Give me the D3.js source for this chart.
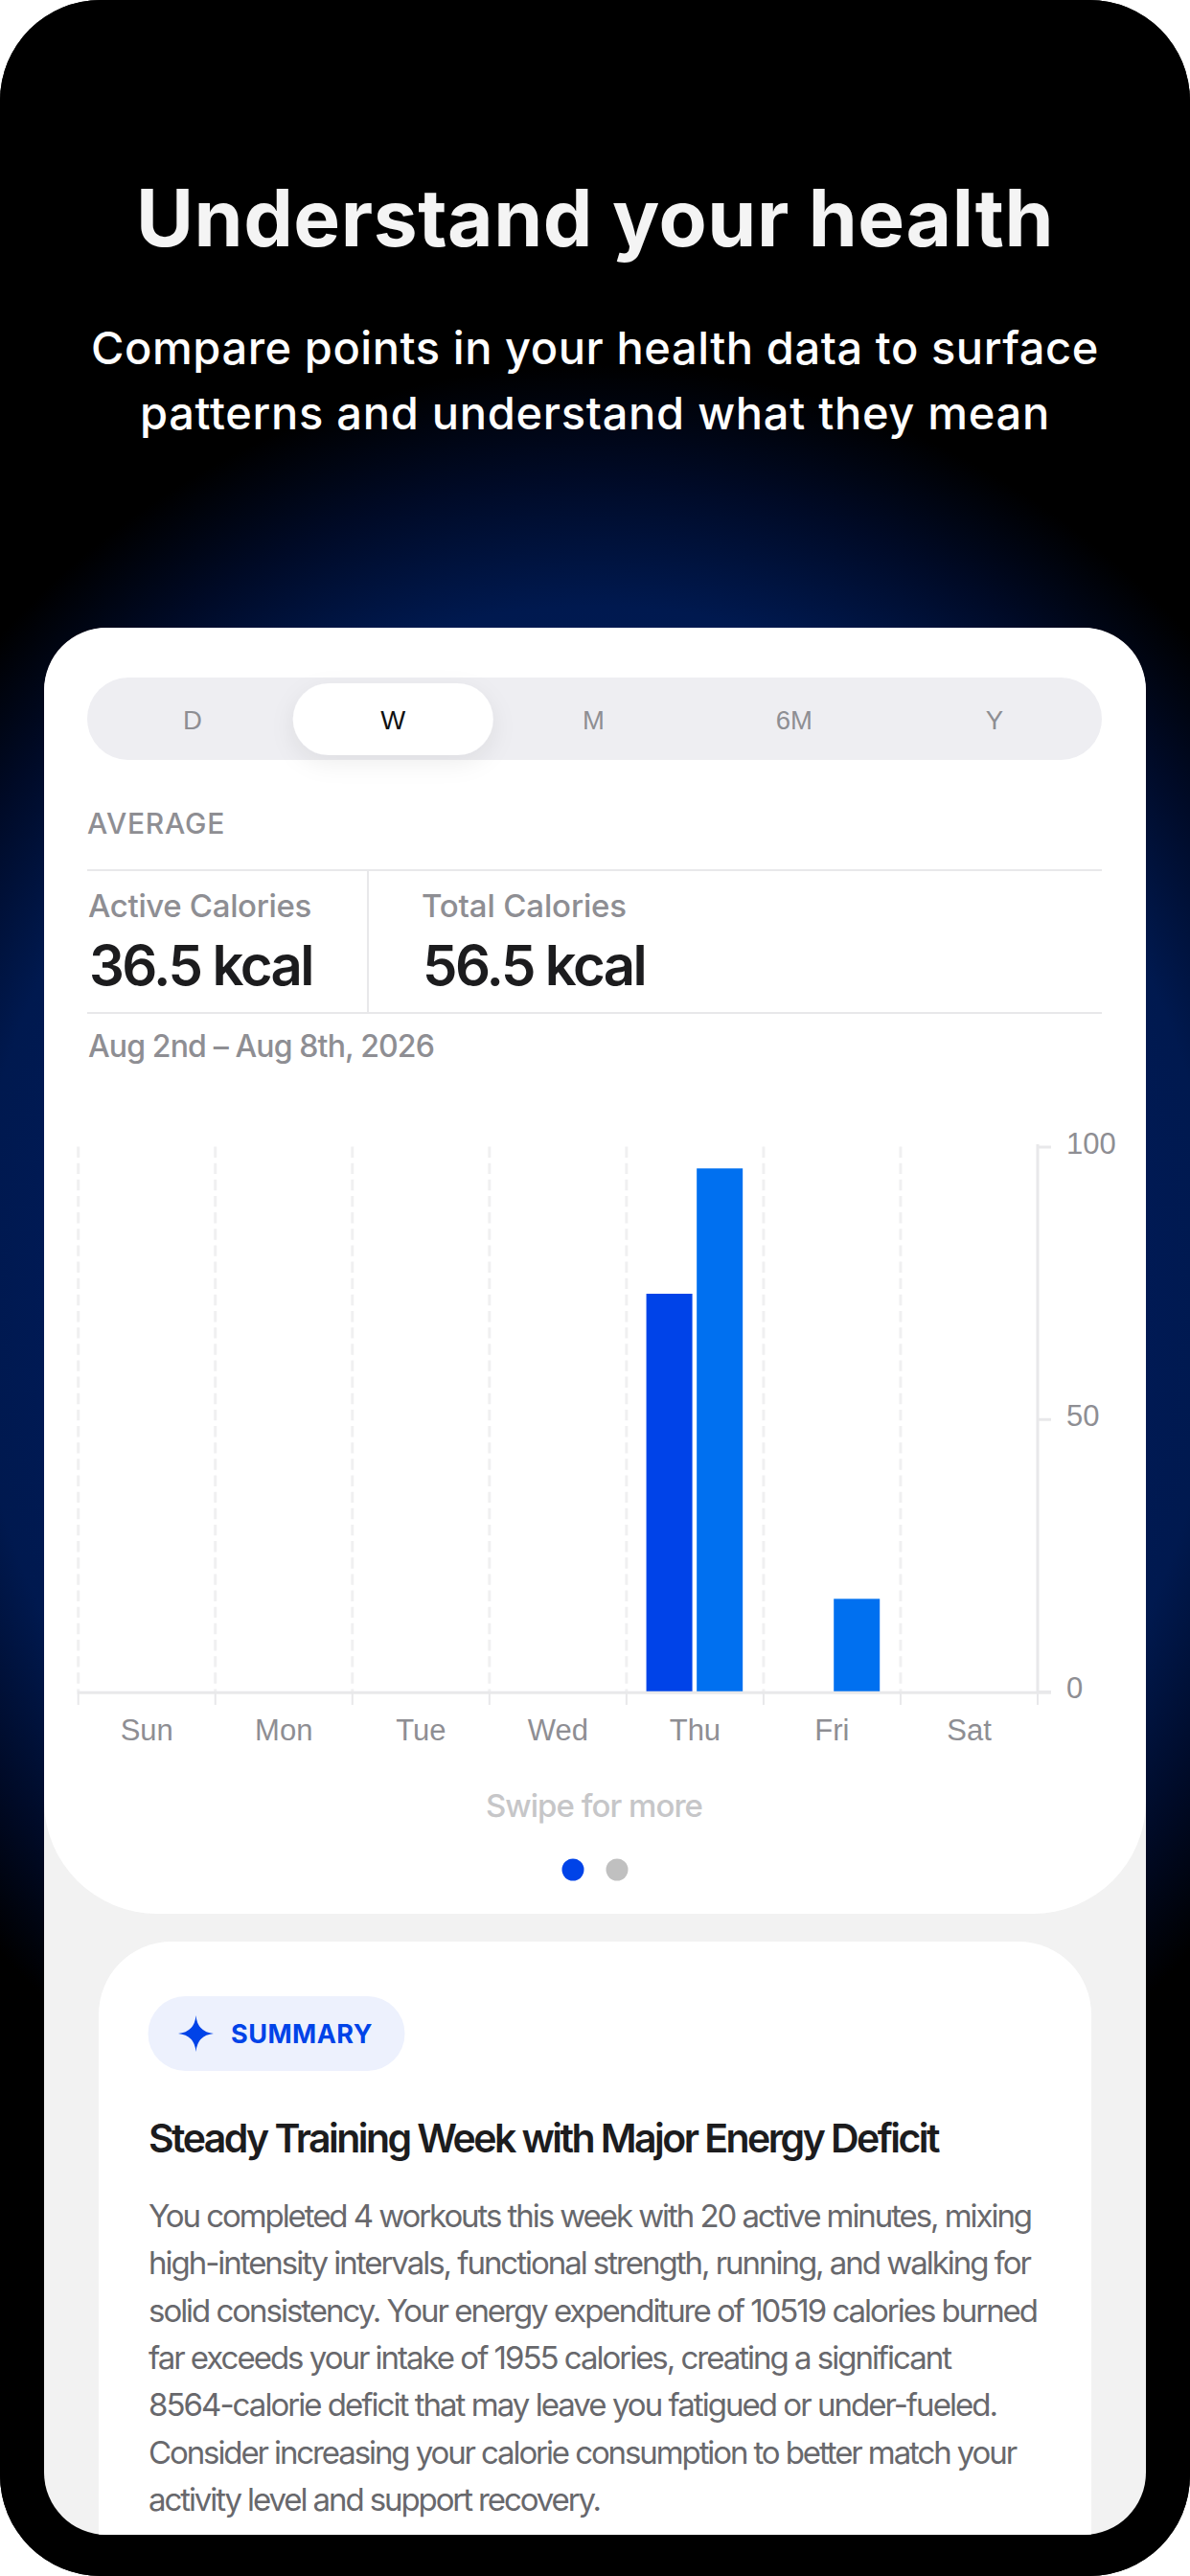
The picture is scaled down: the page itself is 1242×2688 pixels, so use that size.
<!DOCTYPE html>
<html><head><meta charset="utf-8">
<script src="https://cdn.jsdelivr.net/npm/d3@7"></script>
<style>
html,body{margin:0;padding:0;background:#fff;}
svg{display:block;}
.ui{font-family:Inter,"Liberation Sans",sans-serif;}
.hv{font-family:"Liberation Sans",Arial,sans-serif;}
.head{font-family:Inter,sans-serif;}
</style></head><body>
<svg id="c" width="1242" height="2688"></svg>
<script>
// ---- data ----
const days = ["Sun","Mon","Tue","Wed","Thu","Fri","Sat"];
const seriesNames = ["Active Calories","Total Calories"];
const activeValues = [0,0,0,0,73,0,0];
const totalValues = [0,0,0,0,96,17,0];
const yTicks = [0,50,100];
const ranges = ["D","W","M","6M","Y"];
const titleText = "Understand your health";
const subtitleLines = ["Compare points in your health data to surface","patterns and understand what they mean"];
const bodyLines = [
 "You completed 4 workouts this week with 20 active minutes, mixing",
 "high-intensity intervals, functional strength, running, and walking for",
 "solid consistency. Your energy expenditure of 10519 calories burned",
 "far exceeds your intake of 1955 calories, creating a significant",
 "8564-calorie deficit that may leave you fatigued or under-fueled.",
 "Consider increasing your calorie consumption to better match your",
 "activity level and support recovery."];
const bodyWidths = [921,920,927,837,885,905,471];

const svg = d3.select("#c");
const defs = svg.append("defs");
const glow = defs.append("radialGradient").attr("id","glow").attr("gradientUnits","userSpaceOnUse")
  .attr("cx",0).attr("cy",0).attr("r",1)
  .attr("gradientTransform","translate(621,1350) scale(880,970)");
[[0,"#001c5c"],[.62,"#001a56"],[.74,"#00194f"],[.88,"#000a26"],[1,"#000000"]]
  .forEach(s=>glow.append("stop").attr("offset",s[0]).attr("stop-color",s[1]));
defs.append("clipPath").attr("id","panelClip").append("rect")
  .attr("x",46).attr("y",655).attr("width",1150).attr("height",1990).attr("rx",65);
const sh = defs.append("filter").attr("id","pillShadow").attr("x","-30%").attr("y","-40%").attr("width","160%").attr("height","200%");
sh.append("feDropShadow").attr("dx",0).attr("dy",8).attr("stdDeviation",12).attr("flood-color","#000").attr("flood-opacity",.07);

// fit helper: writes text then tracks it to the width measured in the reference
function txt(g,s,x,y,size,weight,fill,cls,width,anchor){
  const t = g.append("text").attr("class",cls).attr("x",x).attr("y",y)
    .attr("font-size",size).attr("font-weight",weight).attr("fill",fill)
    .attr("text-anchor",anchor||"start").text(s);
  if(width){
    const w = t.node().getComputedTextLength();
    t.attr("letter-spacing",((width-w)/s.length).toFixed(3));
  }
  return t;
}

// device background
svg.append("rect").attr("width",1242).attr("height",2688).attr("rx",105).attr("fill","#000");
svg.append("rect").attr("width",1242).attr("height",2688).attr("rx",105).attr("fill","url(#glow)");

// heading
const hd = svg.append("g");
txt(hd,titleText,621,257,82,650,"#f4f4f4","head",958,"middle");
txt(hd,subtitleLines[0],621,380,47,500,"#ffffff","head",1052,"middle");
txt(hd,subtitleLines[1],621,448,47,500,"#ffffff","head",950,"middle");

// phone panel
const panel = svg.append("g").attr("clip-path","url(#panelClip)");
panel.append("rect").attr("x",46).attr("y",655).attr("width",1150).attr("height",1990).attr("fill","#f2f2f2");
panel.append("rect").attr("x",103).attr("y",2026).attr("width",1036).attr("height",800).attr("rx",76).attr("fill","#fff");
panel.append("path").attr("fill","#fff").attr("d",(()=>{
  const p=d3.path(),l=46,r=1196,t=655,b=1997,rt=66,rb=118;
  p.moveTo(l+rt,t);p.lineTo(r-rt,t);p.arcTo(r,t,r,t+rt,rt);p.lineTo(r,b-rb);p.arcTo(r,b,r-rb,b,rb);
  p.lineTo(l+rb,b);p.arcTo(l,b,l,b-rb,rb);p.lineTo(l,t+rt);p.arcTo(l,t,l+rt,t,rt);p.closePath();return p;})());

// segmented control
const seg = svg.append("g");
seg.append("rect").attr("x",91).attr("y",707).attr("width",1059).attr("height",86).attr("rx",43).attr("fill","#eeeef2");
const segX = d3.scalePoint().domain(ranges).range([201,1038]);
seg.append("rect").attr("x",segX("W")-104.5).attr("y",713).attr("width",209).attr("height",75).attr("rx",37.5)
  .attr("fill","#fff").attr("filter","url(#pillShadow)");
ranges.forEach(r=>txt(seg,r,segX(r),761,27.5,400,r==="W"?"#111":"#8e8e93","hv",null,"middle"));

// stats
const st = svg.append("g");
txt(st,"AVERAGE",91,870,30,500,"#8e8e93","ui",144);
[[908],[1057]].forEach(d=>st.append("line").attr("x1",91).attr("x2",1150).attr("y1",d[0]).attr("y2",d[0]).attr("stroke","#e8e8ea").attr("stroke-width",2));
st.append("line").attr("x1",384).attr("x2",384).attr("y1",908).attr("y2",1057).attr("stroke","#e8e8ea").attr("stroke-width",2);
txt(st,"Active Calories",92,957,33,500,"#8e8e93","ui",233);
txt(st,"Total Calories",440,957,33,500,"#8e8e93","ui",214);
txt(st,"36.5 kcal",93,1028,58,600,"#1c1c1e","ui",233);
txt(st,"56.5 kcal",441,1028,58,600,"#1c1c1e","ui",232);
txt(st,"Aug 2nd \u2013 Aug 8th, 2026",92,1103,32,500,"#8e8e93","ui",361);

// chart
const x = d3.scaleBand().domain(days).range([81.7,1083]);
const xInner = d3.scaleBand().domain(seriesNames).range([20.7,121.3]).paddingInner(.0875);
const y = d3.scaleLinear().domain([0,100]).range([1765,1196.5]);
const seriesColor = d3.scaleOrdinal().domain(seriesNames).range(["#0043e8","#0070f0"]);
const edges = days.map(d=>x(d)).concat([x.range()[1]]);
const chart = svg.append("g");
const axisColor = "#e8e8ea";

chart.append("g").selectAll("line").data(edges.slice(0,-1)).join("line")
  .attr("x1",d=>d).attr("x2",d=>d).attr("y1",y(100)).attr("y2",y(0))
  .attr("stroke","#f0f0f1").attr("stroke-width",3).attr("stroke-dasharray","11.4 5.75");

const rows = days.map((d,i)=>[{day:d,s:seriesNames[0],v:activeValues[i]},{day:d,s:seriesNames[1],v:totalValues[i]}]).flat().filter(r=>r.v>0);
chart.append("g").selectAll("rect").data(rows).join("rect")
  .attr("x",d=>x(d.day)+xInner(d.s)).attr("width",xInner.bandwidth())
  .attr("y",d=>y(d.v)).attr("height",d=>y(0)-y(d.v)).attr("fill",d=>seriesColor(d.s));

// axes
const xAxis = chart.append("g").attr("transform",`translate(0,${y(0)+1.3})`)
  .call(d3.axisBottom(x).tickSize(0).tickPadding(32));
xAxis.select(".domain").remove();
xAxis.selectAll("text").attr("class","hv").attr("font-size",31).attr("fill","#8e8e93").attr("font-family","Liberation Sans").attr("dy",0)
  .attr("y",1816-(y(0)+1.3));
chart.append("line").attr("x1",x.range()[0]-1).attr("x2",1097).attr("y1",y(0)+1.3).attr("y2",y(0)+1.3).attr("stroke",axisColor).attr("stroke-width",3);
chart.append("g").selectAll("line").data(edges).join("line")
  .attr("x1",d=>d).attr("x2",d=>d).attr("y1",y(0)).attr("y2",1779).attr("stroke",axisColor).attr("stroke-width",2);

const yAxis = chart.append("g").attr("transform",`translate(${x.range()[1]},0)`)
  .call(d3.axisRight(y).tickValues(yTicks).tickSize(14).tickPadding(16));
yAxis.select(".domain").remove();
yAxis.selectAll(".tick line").attr("stroke",axisColor).attr("stroke-width",3);
yAxis.selectAll(".tick text").attr("font-family","Liberation Sans").attr("font-size",31).attr("fill","#8e8e93")
  .attr("dy",0).attr("y",6.5);
chart.append("line").attr("x1",x.range()[1]).attr("x2",x.range()[1]).attr("y1",1194).attr("y2",y(0)+1.3).attr("stroke",axisColor).attr("stroke-width",3);

// pager
const pg = svg.append("g");
txt(pg,"Swipe for more",620,1896,33,500,"#c6c6c8","ui",226,"middle");
pg.append("circle").attr("cx",598).attr("cy",1951).attr("r",11.5).attr("fill","#0043e8");
pg.append("circle").attr("cx",644).attr("cy",1951).attr("r",11.5).attr("fill","#c0c0c0");

// summary
const sm = svg.append("g").attr("clip-path","url(#panelClip)");
sm.append("rect").attr("x",154.5).attr("y",2083).attr("width",268).attr("height",78).attr("rx",39).attr("fill","#edf1fd");
sm.append("path").attr("transform","translate(204.5,2122)").attr("fill","#0043e8")
  .attr("d","M0,-19Q1.4,-1.8 18.5,0Q1.4,1.8 0,19Q-1.4,1.8 -18.5,0Q-1.4,-1.8 0,-19Z");
txt(sm,"SUMMARY",241,2132,27,700,"#0043e8","ui",148);
txt(sm,"Steady Training Week with Major Energy Deficit",155,2246,41,600,"#1c1c1e","ui",824);
const bodyY = d3.scaleLinear().domain([0,6]).range([2324,2620]);
bodyLines.forEach((l,i)=>txt(sm,l,155,bodyY(i),33,400,"#68686c","ui",bodyWidths[i]));
</script>
</body></html>
